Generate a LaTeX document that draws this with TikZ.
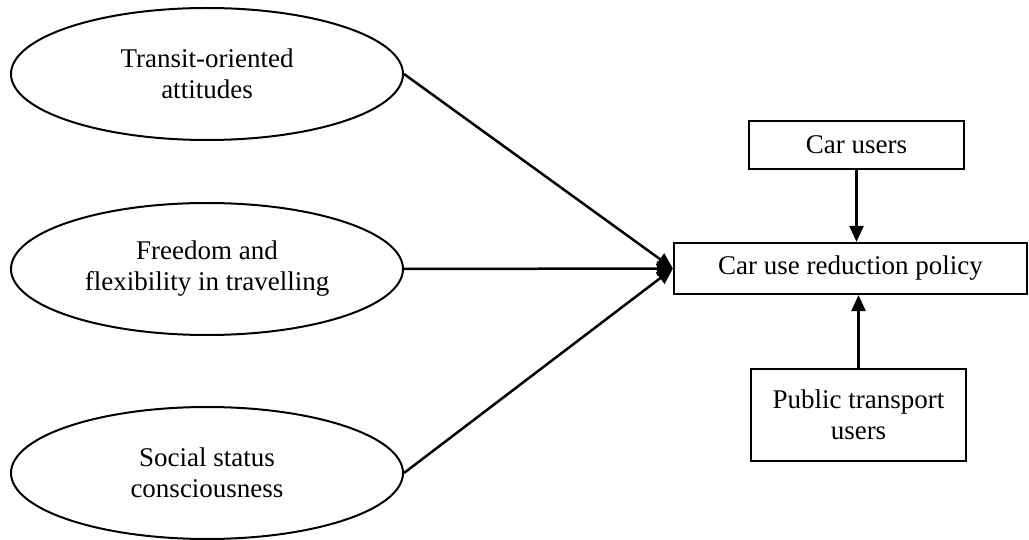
\documentclass[tikz,border=0pt]{standalone}
\usepackage{fontspec}
\setmainfont{Liberation Serif}
\usetikzlibrary{shapes.geometric,arrows.meta}
\begin{document}
\begin{tikzpicture}[x=1pt,y=-1pt,
  every node/.style={font=\fontsize{27}{31}\selectfont, align=center},
  oval/.style={ellipse, draw, line width=2pt, minimum width=392pt, minimum height=132pt, inner sep=0pt},
  box/.style={rectangle, draw, line width=2.2pt, inner sep=0pt},
  conn/.style={line width=2.5pt, -{Triangle[length=16pt,width=14pt]}}]
\useasboundingbox (0,0) rectangle (1029,540);
\node[oval] (e1) at (207,74) {Transit-oriented\\attitudes};
\node[oval] (e2) at (207,269) {Freedom and\\flexibility in travelling};
\node[oval] (e3) at (207,473) {Social status\\consciousness};
\node[box, minimum width=353pt, minimum height=51pt] (p) at (850.5,268.5) {Car use reduction policy};
\node[box, minimum width=215pt, minimum height=48pt] (c) at (856.5,145) {Car users};
\node[box, minimum width=215pt, minimum height=92pt] (t) at (858.5,415) {Public transport\\users};
\draw[conn] (e1.east) -- (p.west);
\draw[conn] (e2.east) -- (p.west);
\draw[conn] (e3.east) -- (p.west);
\draw[conn] (c.south) -- (c.south |- p.north);
\draw[conn] (t.north) -- (t.north |- p.south);
\end{tikzpicture}
\end{document}
